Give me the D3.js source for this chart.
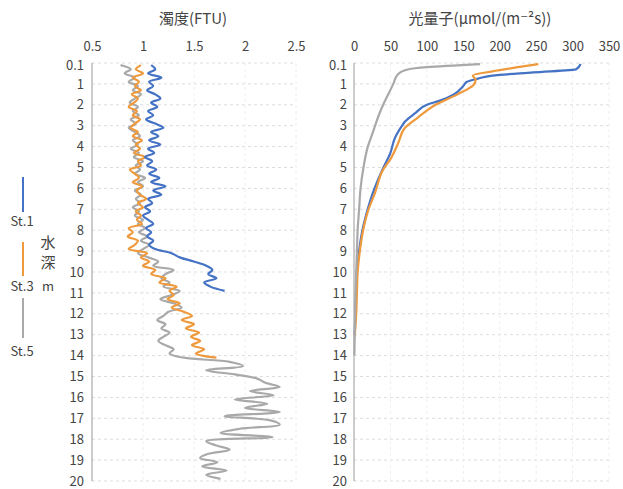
<!DOCTYPE html>
<html>
<head>
<meta charset="utf-8">
<script src="https://cdn.jsdelivr.net/npm/d3@7"></script>
<style>
  body { margin: 0; background: #fff; }
  text { font-family: "Noto Sans CJK JP", "DejaVu Sans", sans-serif; fill: #444; }
</style>
</head>
<body>
<div id="chart"></div>
<script>
// turbidity profiles, one value every 0.2 m starting at 0.1 m
const turbStart = 0.1, turbStep = 0.2;
const turbSt1 = [1.08,1.12,1.05,1.18,1.06,1.10,1.04,1.12,1.17,1.08,1.14,1.05,1.10,1.03,1.12,1.20,1.08,1.15,1.06,1.17,
  1.05,1.11,1.02,1.09,1.04,1.13,1.06,1.16,1.08,1.22,1.10,1.18,1.05,1.09,1.02,1.07,1.00,1.05,1.10,1.03,
  1.08,1.04,1.10,1.06,1.12,1.28,1.36,1.50,1.62,1.68,1.64,1.72,1.60,1.66,1.80];
const turbSt3 = [0.98,0.93,1.00,0.90,0.96,0.92,0.98,0.89,0.95,0.91,0.86,0.94,0.90,0.97,0.92,0.88,0.95,0.90,0.99,0.93,
  0.97,0.91,1.02,0.95,0.98,0.87,0.92,0.96,0.90,0.99,0.94,0.97,1.03,0.95,1.00,0.93,0.98,0.94,0.99,0.86,
  0.90,0.85,0.95,0.92,0.86,1.04,0.98,1.06,1.00,1.12,1.08,1.22,1.16,1.33,1.26,1.30,1.24,1.36,1.28,1.40,
  1.48,1.38,1.50,1.42,1.55,1.47,1.56,1.48,1.60,1.52,1.72];
const turbSt5 = [0.78,0.88,0.82,0.92,0.86,0.95,0.90,0.98,0.92,0.87,0.95,0.90,0.96,0.88,0.93,0.86,0.92,0.97,0.90,0.95,
  0.88,0.96,0.91,1.00,0.93,0.97,0.92,1.02,0.95,1.00,0.92,0.98,0.93,0.97,0.90,0.96,0.92,1.00,0.95,1.02,
  0.96,1.04,0.98,1.06,1.00,0.95,1.05,1.15,1.10,1.30,1.22,1.18,1.26,1.20,1.36,1.28,1.17,1.30,1.38,1.25,
  1.20,1.14,1.22,1.18,1.26,1.20,1.15,1.22,1.30,1.26,1.40,1.85,1.98,1.62,1.90,2.12,2.20,2.34,2.05,2.28,
  1.90,2.22,2.00,2.34,1.80,2.25,2.34,1.95,1.76,2.27,1.62,1.72,1.85,1.64,1.56,1.73,1.58,1.82,1.62,1.76];

// photon flux profiles (depth m, value)
const photDepthSt1 = [0.05,0.3,0.45,0.6,0.75,0.9,1.1,1.5,1.8,2.0,2.4,2.8,3.0,3.6,4.3,5.1,6.2,7.1,8.1,9,10,11,12,13];
const photSt1 = [311,305,246,190,170,155,150,137,118,100,84,70,66,56,50,39,26,18,11,7,4,3,2,1];
const photDepthSt3 = [0.05,0.2,0.4,0.6,0.8,1.05,1.5,2.0,2.6,3.1,3.8,4.6,5.1,6.2,7.1,8.1,9,10,11,12,13.1];
const photSt3 = [253,225,190,163,167,164,142,112,88,70,61,50,40,29,19,12,8,5,4,3,1];
const photDepthSt5 = [0.05,0.2,0.3,0.55,1,1.5,2,2.5,3,3.5,4,5,6,7,8,9,10,11,12,13,14];
const photSt5 = [173,100,75,60,54,47,40,34,29,24,19,13,9,7,5,4,3,2,1.5,1,0.5];

const depthTicks = [0.1,1,2,3,4,5,6,7,8,9,10,11,12,13,14,15,16,17,18,19,20];
const turbTicks = [0.5,1,1.5,2,2.5];
const photTicks = [0,50,100,150,200,250,300,350];
const stations = ["St.1","St.3","St.5"];
const colors = ["#4472C4","#EE9A3C","#A9A9A9"];

const width = 623, height = 489;
const svg = d3.select("#chart").append("svg")
  .attr("width", width).attr("height", height);

const y = d3.scaleLinear().domain([0, 20]).range([63, 481]);
const xT = d3.scaleLinear().domain([0.5, 2.5]).range([92, 296]);
const xP = d3.scaleLinear().domain([0, 350]).range([354, 609]);

function panel(x, ticks, fmt, labelX, title, titleX) {
  const g = svg.append("g");
  // grid
  g.append("g").selectAll("line").data(d3.range(0, 21))
    .enter().append("line")
    .attr("x1", x.range()[0]).attr("x2", x.range()[1])
    .attr("y1", d => y(d)).attr("y2", d => y(d))
    .attr("stroke", "#ddd").attr("stroke-dasharray", "3,3");
  g.append("g").selectAll("line").data(ticks.slice(1))
    .enter().append("line")
    .attr("x1", d => x(d)).attr("x2", d => x(d))
    .attr("y1", y(0)).attr("y2", y(20))
    .attr("stroke", "#eee").attr("stroke-dasharray", "3,3");
  g.append("line")
    .attr("x1", x.range()[0]).attr("x2", x.range()[0])
    .attr("y1", y(0)).attr("y2", y(20))
    .attr("stroke", "#999");
  // top axis
  const ax = g.append("g")
    .attr("transform", `translate(0,${y(0)})`)
    .call(d3.axisTop(x).tickValues(ticks).tickFormat(fmt).tickSize(0).tickPadding(12));
  ax.select(".domain").remove();
  ax.selectAll("text").attr("font-size", 13).attr("fill", "#444")
    .attr("font-family", "\"Noto Sans CJK JP\", sans-serif");
  // left axis labels
  const ay = g.append("g")
    .attr("transform", `translate(${labelX},0)`)
    .call(d3.axisLeft(y).tickValues(depthTicks).tickFormat(d => d).tickSize(0).tickPadding(0));
  ay.select(".domain").remove();
  ay.selectAll("text").attr("font-size", 13).attr("fill", "#444")
    .attr("font-family", "\"Noto Sans CJK JP\", sans-serif");
  svg.append("text")
    .attr("x", titleX).attr("y", 24)
    .attr("text-anchor", "middle").attr("font-size", 15)
    .text(title);
}

panel(xT, turbTicks, d => d, 84, "濁度(FTU)", 193);
panel(xP, photTicks, d => d, 347, "光量子(μmol/(m⁻²s))", 480);

const lineT = d3.line()
  .x(d => xT(d)).y((d, i) => y(turbStart + i * turbStep))
  .curve(d3.curveCatmullRom);

[turbSt1, turbSt3, turbSt5].slice().reverse().forEach((s, k) => {
  svg.append("path").datum(s)
    .attr("d", lineT)
    .attr("fill", "none")
    .attr("stroke", colors[2 - k])
    .attr("stroke-width", 2.2);
});

const photSeries = [[photDepthSt1, photSt1], [photDepthSt3, photSt3], [photDepthSt5, photSt5]];
photSeries.forEach(([dep, val], k) => {
  const line = d3.line()
    .x(d => xP(d)).y((d, i) => y(dep[i]))
    .curve(d3.curveMonotoneY);
  svg.append("path").datum(val)
    .attr("d", line)
    .attr("fill", "none")
    .attr("stroke", colors[k])
    .attr("stroke-width", 2.2);
});

// legend
const legY = [[177, 212, 226], [242, 276, 291], [298, 338, 356]];
stations.forEach((s, i) => {
  svg.append("line")
    .attr("x1", 23).attr("x2", 23)
    .attr("y1", legY[i][0]).attr("y2", legY[i][1])
    .attr("stroke", colors[i]).attr("stroke-width", 2);
  svg.append("text")
    .attr("x", 22).attr("y", legY[i][2])
    .attr("text-anchor", "middle").attr("font-size", 13)
    .text(s);
});
svg.append("text").attr("x", 48).attr("y", 248).attr("text-anchor", "middle").attr("font-size", 15).text("水");
svg.append("text").attr("x", 48).attr("y", 268).attr("text-anchor", "middle").attr("font-size", 15).text("深");
svg.append("text").attr("x", 48).attr("y", 291).attr("text-anchor", "middle").attr("font-size", 13).text("m");
</script>
</body>
</html>
